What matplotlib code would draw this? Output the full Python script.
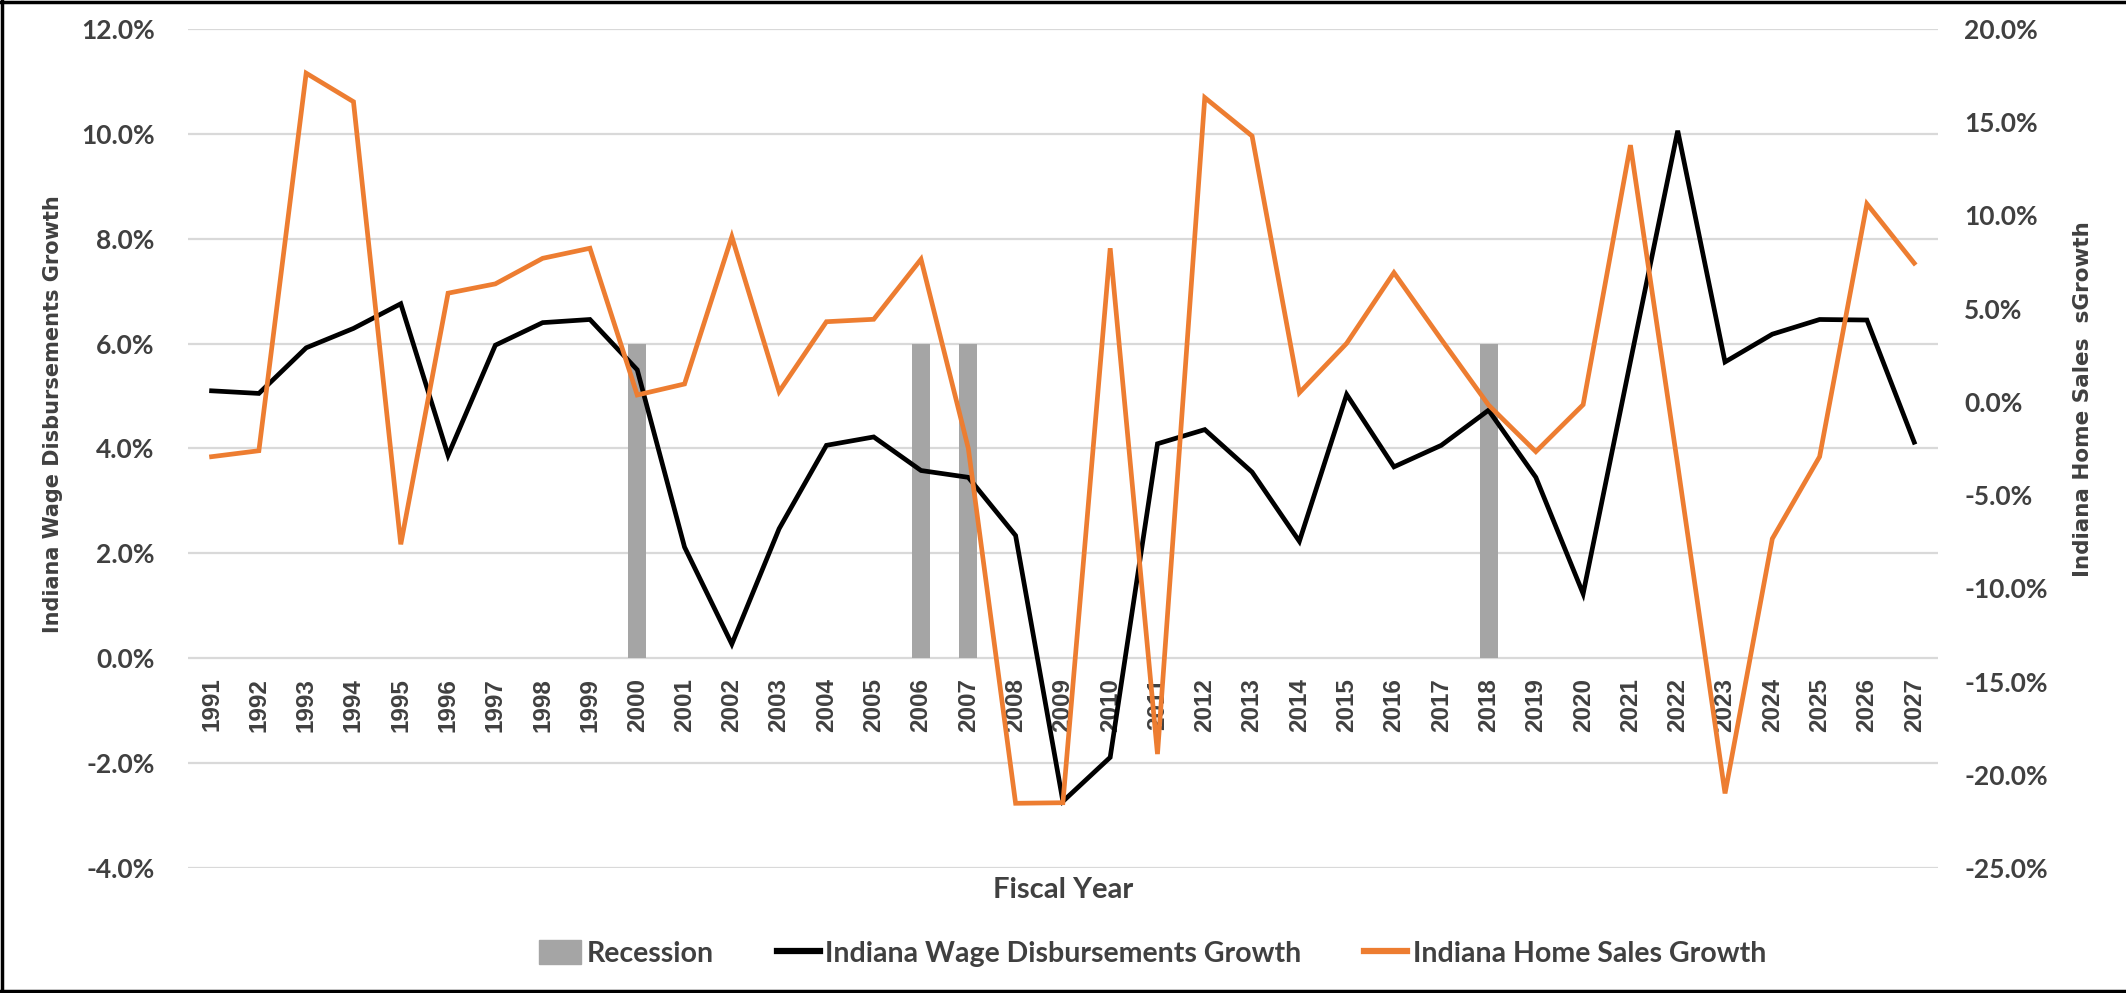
import numpy as np
import matplotlib
matplotlib.use("Agg")
import matplotlib.pyplot as plt
from matplotlib.lines import Line2D
from matplotlib.patches import Patch
from matplotlib.ticker import FuncFormatter

# data (percent)
years = [str(y) for y in range(1991, 2028)]
wage_growth = [5.10, 5.05, 5.92, 6.29, 6.76, 3.87, 5.97, 6.40, 6.46, 5.50,
               2.12, 0.27, 2.47, 4.06, 4.22, 3.58, 3.45, 2.34, -2.73, -1.89,
               4.09, 4.36, 3.55, 2.23, 5.03, 3.65, 4.06, 4.73, 3.45, 1.23,
               5.66, 10.06, 5.65, 6.18, 6.46, 6.45, 4.12]
home_sales_growth = [-2.94, -2.62, 17.63, 16.1, -7.64, 5.83, 6.33, 7.7, 8.24, 0.37,
                     0.96, 8.86, 0.55, 4.3, 4.43, 7.65, -2.49, -21.53, -21.5, 8.24,
                     -18.89, 16.32, 14.26, 0.49, 3.14, 6.93, 3.35, -0.17, -2.67, -0.15,
                     13.77, -3.4, -21.0, -7.34, -2.94, 10.62, 7.44]
recession_years = ["2000", "2006", "2007", "2018"]
recession_level = 6.0

recession = [recession_level if y in recession_years else 0 for y in years]

TXT = "#404040"
ORANGE = "#ED7D31"
GRAY = "#A5A5A5"
tick_font = "Lato"

fig = plt.figure(figsize=(21.26, 9.93), dpi=100)
ax = fig.add_axes([0.0884, 0.1259, 0.8231, 0.8449])
x = np.arange(len(years))

ax.bar(x, recession, width=0.38, color=GRAY, zorder=2)
ax.plot(x, wage_growth, color="black", lw=3.4, zorder=3, solid_joinstyle="miter")
ax.set_xlim(-0.5, len(years) - 0.5)
ax.set_ylim(-4, 12)
ax.set_yticks(np.arange(-4, 12.1, 2))
ax.yaxis.set_major_formatter(FuncFormatter(lambda v, p: f"{v:.1f}%"))
ax.grid(axis="y", color="#D9D9D9", lw=1.6, zorder=0)
ax.set_axisbelow(True)

# category axis crosses at 0%
ax.spines["bottom"].set_position(("data", 0))
for s in ax.spines.values():
    s.set_visible(False)
ax.set_xticks(x)
ax.set_xticklabels(years, rotation=90, fontsize=17.5, fontweight="bold",
                   family="Liberation Sans", color=TXT, va="top")
ax.tick_params(axis="x", length=0, pad=14)
ax.tick_params(axis="y", length=0, pad=24, labelsize=19, labelcolor=TXT)
for lab in ax.get_yticklabels():
    lab.set_fontweight("bold")
    lab.set_family(tick_font)

ax2 = ax.twinx()
ax2.plot(x, home_sales_growth, color=ORANGE, lw=3.4, zorder=3, solid_joinstyle="miter")
ax2.set_ylim(-25, 20)
ax2.set_yticks(np.arange(-25, 20.1, 5))
ax2.yaxis.set_major_formatter(FuncFormatter(lambda v, p: f"{v:.1f}%"))
for s in ax2.spines.values():
    s.set_visible(False)
ax2.tick_params(axis="y", length=0, pad=19, labelsize=19, labelcolor=TXT)
for lab in ax2.get_yticklabels():
    lab.set_fontweight("bold")
    lab.set_family(tick_font)

fig.text(0.025, 0.583, "Indiana Wage Disbursements Growth", rotation=90,
         ha="center", va="center", fontsize=15, fontweight="bold", color=TXT)
fig.text(0.980, 0.598, "Indiana Home Sales  sGrowth", rotation=90,
         ha="center", va="center", fontsize=15.5, fontweight="bold", color=TXT)
fig.text(0.5, 0.104, "Fiscal Year", ha="center", va="center",
         fontsize=21, fontweight="bold", color=TXT, family=tick_font)

handles = [Patch(color=GRAY),
           Line2D([0], [0], color="black", lw=4.5),
           Line2D([0], [0], color=ORANGE, lw=4.5)]
labels = ["Recession", "Indiana Wage Disbursements Growth", "Indiana Home Sales Growth"]
leg = fig.legend(handles, labels, loc="center", bbox_to_anchor=(0.542, 0.040), ncol=3,
                 frameon=False, handlelength=1.5, handleheight=0.9, handletextpad=0.2,
                 columnspacing=2.2,
                 prop={"family": tick_font, "weight": "bold", "size": 20.5})
for t in leg.get_texts():
    t.set_color(TXT)

# outer frame (left, top, bottom)
for xs, ys in [([0.001, 0.001], [0, 1]), ([0, 1], [0.998, 0.998]), ([0, 1], [0.002, 0.002])]:
    fig.add_artist(Line2D(xs, ys, color="black", lw=2.5, transform=fig.transFigure))

fig.savefig("out.png", dpi=100, facecolor="white")
